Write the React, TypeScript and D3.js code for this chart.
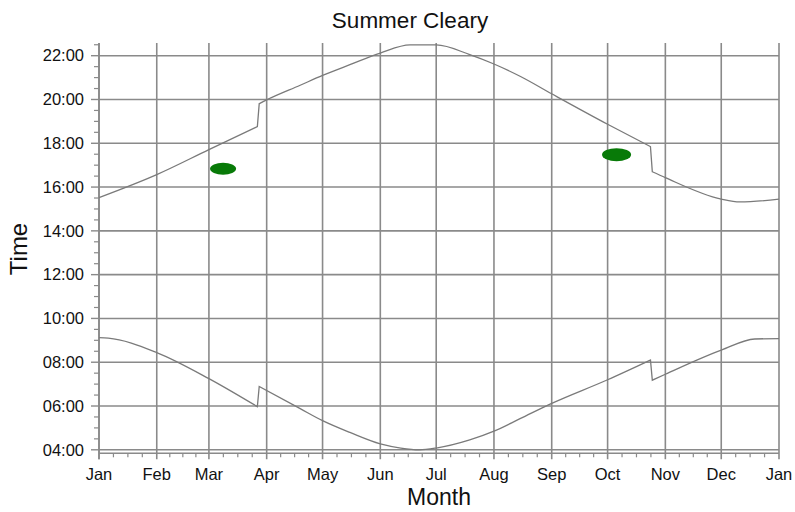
import React from 'react';
import * as d3 from 'd3';

const monthLabels = ['Jan', 'Feb', 'Mar', 'Apr', 'May', 'Jun', 'Jul', 'Aug', 'Sep', 'Oct', 'Nov', 'Dec', 'Jan'];
const monthStartDays = [0, 31, 59, 90, 120, 151, 181, 212, 243, 273, 304, 334, 365];
const hourTicks = [4, 6, 8, 10, 12, 14, 16, 18, 20, 22];
const hourLabels = ['04:00', '06:00', '08:00', '10:00', '12:00', '14:00', '16:00', '18:00', '20:00', '22:00'];

// Sunset (upper curve): day of year, clock hours
const sunsetDays = [0, 31, 59, 85, 86, 90, 108, 120, 135, 151, 167, 181, 199, 212, 226, 243, 273, 296, 297, 304, 334, 344, 365];
const sunsetHours = [15.52, 16.57, 17.71, 18.76, 19.81, 19.98, 20.65, 21.1, 21.6, 22.12, 22.49, 22.49, 22.05, 21.62, 21.06, 20.26, 18.87, 17.85, 16.7, 16.43, 15.45, 15.32, 15.45];

// Sunrise (lower curve)
const sunriseDays = [0, 5, 31, 59, 85, 86, 108, 120, 135, 151, 162, 172, 181, 199, 212, 226, 243, 273, 296, 297, 304, 334, 352, 365];
const sunriseHours = [9.12, 9.1, 8.44, 7.25, 5.97, 6.89, 5.88, 5.33, 4.78, 4.27, 4.08, 4.0, 4.08, 4.45, 4.85, 5.42, 6.12, 7.2, 8.1, 7.18, 7.45, 8.55, 9.06, 9.08];

// Green hand marks
const markDays = [66.6, 277];
const markHours = [16.84, 17.48];

const W = 795;
const H = 512;
const FONT = '"Liberation Sans", Arial, sans-serif';

type P = [number, number];

function splitAtJumps(pts: P[]): P[][] {
  const segs: P[][] = [[pts[0]]];
  for (let i = 1; i < pts.length; i++) {
    const prev = pts[i - 1];
    const cur = pts[i];
    if (cur[0] - prev[0] <= 1 && Math.abs(cur[1] - prev[1]) > 0.5) {
      segs.push([cur]);
    } else {
      segs[segs.length - 1].push(cur);
    }
  }
  return segs;
}

export default function App() {
  const x = d3.scaleLinear().domain([0, 365]).range([99, 779]);
  const y = d3.scaleLinear().domain([3.84, 22.58]).range([453.3, 43]);

  const smooth = d3
    .line<P>()
    .x((d) => x(d[0]))
    .y((d) => y(d[1]))
    .curve(d3.curveMonotoneX);

  const buildPath = (pts: P[]) => {
    const segs = splitAtJumps(pts);
    let d = '';
    segs.forEach((s, i) => {
      const p = smooth(s) || '';
      d += i === 0 ? p : 'L' + p.slice(1);
    });
    return d;
  };

  const sunset = sunsetDays.map((d, i) => [d, sunsetHours[i]] as P);
  const sunrise = sunriseDays.map((d, i) => [d, sunriseHours[i]] as P);

  const minorX: number[] = [];
  for (let i = 0; i < monthStartDays.length - 1; i++) {
    const s = monthStartDays[i];
    const len = monthStartDays[i + 1] - s;
    for (let k = 1; k < 4; k++) minorX.push(s + (k * len) / 4);
  }
  const minorY: number[] = [];
  for (let h = 4; h <= 22.58; h += 0.5) {
    if (h % 2 !== 0) minorY.push(h);
  }

  const [x0, x1] = x.range();
  const yTop = y.range()[1];
  const yBot = y.range()[0];
  const grid = '#8a8a8a';

  return (
    <svg width={W} height={H} style={{ position: 'absolute', left: 0, top: 0, background: '#fff' }}>
      <rect width={W} height={H} fill="#fff" />
      {hourTicks.map((h) => (
        <line key={'hg' + h} x1={x0} x2={x1} y1={y(h)} y2={y(h)} stroke={grid} strokeWidth={1.6} />
      ))}
      {monthStartDays.map((d, i) => (
        <line key={'vg' + i} x1={x(d)} x2={x(d)} y1={yTop} y2={yBot + 6} stroke={grid} strokeWidth={1.6} />
      ))}
      <line x1={x0} x2={x0} y1={yTop} y2={yBot + 6} stroke={grid} strokeWidth={1.6} />
      <line x1={x0} x2={x1} y1={yBot} y2={yBot} stroke={grid} strokeWidth={1.6} />
      {hourTicks.map((h) => (
        <line key={'yt' + h} x1={x0 - 8} x2={x0} y1={y(h)} y2={y(h)} stroke={grid} strokeWidth={1.4} />
      ))}
      {minorY.map((h) => (
        <line key={'ym' + h} x1={x0 - 5} x2={x0} y1={y(h)} y2={y(h)} stroke={grid} strokeWidth={1.2} />
      ))}
      {minorX.map((d, i) => (
        <line key={'xm' + i} x1={x(d)} x2={x(d)} y1={yBot} y2={yBot + 4} stroke={grid} strokeWidth={1.2} />
      ))}
      <path d={buildPath(sunset)} fill="none" stroke="#7a7a7a" strokeWidth={1.3} />
      <path d={buildPath(sunrise)} fill="none" stroke="#7a7a7a" strokeWidth={1.3} />
      {markDays.map((d, i) => (
        <ellipse
          key={'mk' + i}
          cx={x(d) + i * 1.5}
          cy={y(markHours[i])}
          rx={13 + i * 1.5}
          ry={6 + i * 0.5}
          fill="#087a08"
        />
      ))}
      {hourTicks.map((h, i) => (
        <text
          key={'yl' + h}
          x={84}
          y={y(h)}
          dy="0.35em"
          textAnchor="end"
          fontFamily={FONT}
          fontSize={16.5}
          fill="#111"
        >
          {hourLabels[i]}
        </text>
      ))}
      {monthStartDays.map((d, i) => (
        <text key={'xl' + i} x={x(d)} y={480} textAnchor="middle" fontFamily={FONT} fontSize={16.5} fill="#111">
          {monthLabels[i]}
        </text>
      ))}
      <text x={410} y={28} textAnchor="middle" fontFamily={FONT} fontSize={22.5} fill="#111">
        Summer Cleary
      </text>
      <text x={439} y={505} textAnchor="middle" fontFamily={FONT} fontSize={23} fill="#111">
        Month
      </text>
      <text
        transform="translate(27,249) rotate(-90)"
        textAnchor="middle"
        fontFamily={FONT}
        fontSize={24}
        fill="#111"
      >
        Time
      </text>
    </svg>
  );
}
